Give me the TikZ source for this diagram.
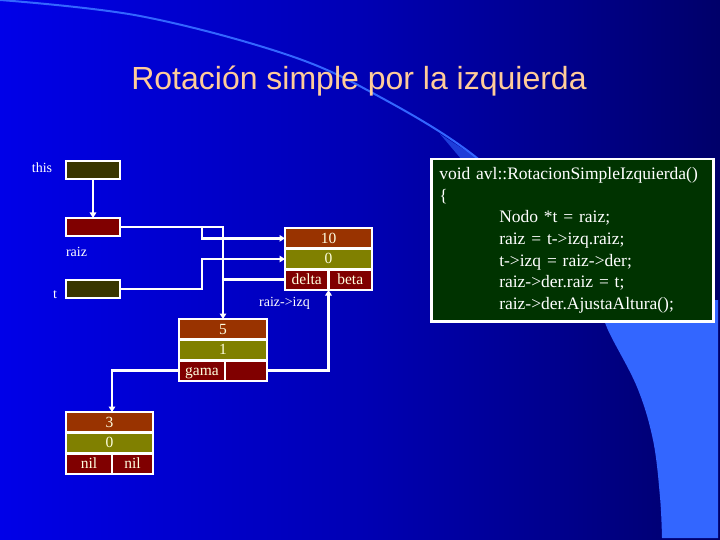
\documentclass[tikz,border=0pt]{standalone}
\usepackage{fontspec}
\setmainfont{Liberation Serif}
\newfontfamily\titlefont{Liberation Sans}
\usetikzlibrary{arrows.meta}
\definecolor{bg0}{RGB}{8,8,245}
\definecolor{bg1}{RGB}{0,0,232}
\definecolor{bg2}{RGB}{0,0,180}
\definecolor{bg3}{RGB}{0,0,140}
\definecolor{bg4}{RGB}{0,0,96}
\definecolor{bg5}{RGB}{0,0,48}
\definecolor{bg6}{RGB}{0,0,20}
\definecolor{arcblue}{RGB}{51,102,255}
\definecolor{keycol}{HTML}{993300}
\definecolor{balcol}{HTML}{808000}
\definecolor{ptrcol}{HTML}{800000}
\definecolor{olivedark}{HTML}{383500}
\definecolor{codegreen}{HTML}{003300}
\definecolor{celltext}{HTML}{FFFFE0}
\definecolor{titlecol}{HTML}{FFCC99}
\pgfdeclarehorizontalshading{bgsh}{100bp}{color(0bp)=(bg0); color(25bp)=(bg1); color(50bp)=(bg2); color(64bp)=(bg3); color(78bp)=(bg4); color(90bp)=(bg5); color(100bp)=(bg6)}
\begin{document}
\begin{tikzpicture}[x=1pt,y=-1pt,
  lbl/.style={text=white, font=\fontsize{14}{14}\selectfont, inner sep=0, anchor=base},
  ptrbox/.style={draw=white, line width=2.5pt, minimum width=54pt, minimum height=18pt, inner sep=0, outer sep=0, anchor=north west},
  cellbase/.style={draw=white, line width=2.5pt, minimum height=20.67pt, inner sep=0, outer sep=0, anchor=north west, text=celltext, font=\fontsize{15.5}{15.5}\selectfont, text height=10.5pt, text depth=1pt},
  keyc/.style={cellbase, fill=keycol, minimum width=87pt},
  balc/.style={cellbase, fill=balcol, minimum width=87pt},
  ptrc/.style={cellbase, fill=ptrcol},
  link/.style={draw=white, line width=2.5pt},
  arr/.style={link, -{Triangle[width=6.5pt,length=5.5pt]}},
]
\useasboundingbox (0,0) rectangle (720,540);
% background
\shade[shading=bgsh] (0,0) rectangle (720,540);
\fill[arcblue] plot[smooth, tension=0.6] coordinates {(598,300) (608,330) (637,387) (653,440) (660,497) (662,538)} -- (718,538) -- (718,300) -- cycle;
\fill[arcblue, opacity=0.6] (440,134) -- (480,160) -- (462,160) -- cycle;
\draw[arcblue, line width=2pt] plot[smooth, tension=0.6] coordinates {(0,0) (140,16) (288,55) (380,97) (477,158) (560,240) (605,320)};

% title
\node[font=\titlefont\fontsize{32}{32}\selectfont, text=titlecol, anchor=base, inner sep=0] (title) at (359,90) {Rotación simple por la izquierda};

% pointer boxes
\node[ptrbox, fill=olivedark] (this) at (66,161) {};
\node[ptrbox, fill=ptrcol] (raiz) at (66,218) {};
\node[ptrbox, fill=olivedark] (t) at (66,280) {};

% labels
\node[lbl] (lthis) at (42,172.5) {this};
\node[lbl] (lraiz) at (76.5,256) {raiz};
\node[lbl] (lt) at (55,298.3) {t};
\node[lbl] (lizq) at (284.5,306) {raiz->izq};

% node 10
\node[keyc] (n10a) at (285,228) {10};
\node[balc] (n10b) at (285,248.67) {0};
\node[ptrc, minimum width=43.5pt] (n10l) at (285,269.33) {delta};
\node[ptrc, minimum width=43.5pt] (n10r) at (328.5,269.33) {beta};

% node 5
\node[keyc, minimum width=88pt] (n5a) at (179,319) {5};
\node[balc, minimum width=88pt] (n5b) at (179,339.67) {1};
\node[ptrc, minimum width=46pt] (n5l) at (179,360.33) {gama};
\node[ptrc, minimum width=42pt] (n5r) at (225,360.33) {};

% node 3
\node[keyc] (n3a) at (66,412) {3};
\node[balc] (n3b) at (66,432.67) {0};
\node[ptrc, minimum width=46pt] (n3l) at (66,453.33) {nil};
\node[ptrc, minimum width=41pt] (n3r) at (112,453.33) {nil};

% connectors
\coordinate (j1) at (202,227);
\draw[arr] (this.south) -- (raiz.north);
\draw[arr] (raiz.east) -| (n5a.north);
\draw[arr] (j1) |- (n10a.west);
\draw[arr] (t.east) -- (t.east -| j1) |- (n10b.west);
\draw[link] (n10l.west) -- (n10l.west -| n5a.north);
\draw[arr] (n5r.east) -| (n10r.south west);
\draw[arr] (n5l.west) -| (n3a.north -| n3r.west);

% code box
\node[draw=white, line width=2.5pt, fill=codegreen, anchor=north west, minimum width=282pt, minimum height=162pt, inner xsep=8pt, inner ysep=0pt, align=left, text width=266pt, text=white, font=\fontsize{17.5}{21.7}\selectfont] (code) at (430,158) {void avl::RotacionSimpleIzquierda()\\
\{\\
\hspace*{60pt}Nodo *t = raiz;\\
\hspace*{60pt}raiz = t->izq.raiz;\\
\hspace*{60pt}t->izq = raiz->der;\\
\hspace*{60pt}raiz->der.raiz = t;\\
\hspace*{60pt}raiz->der.AjustaAltura();};
\end{tikzpicture}
\end{document}
